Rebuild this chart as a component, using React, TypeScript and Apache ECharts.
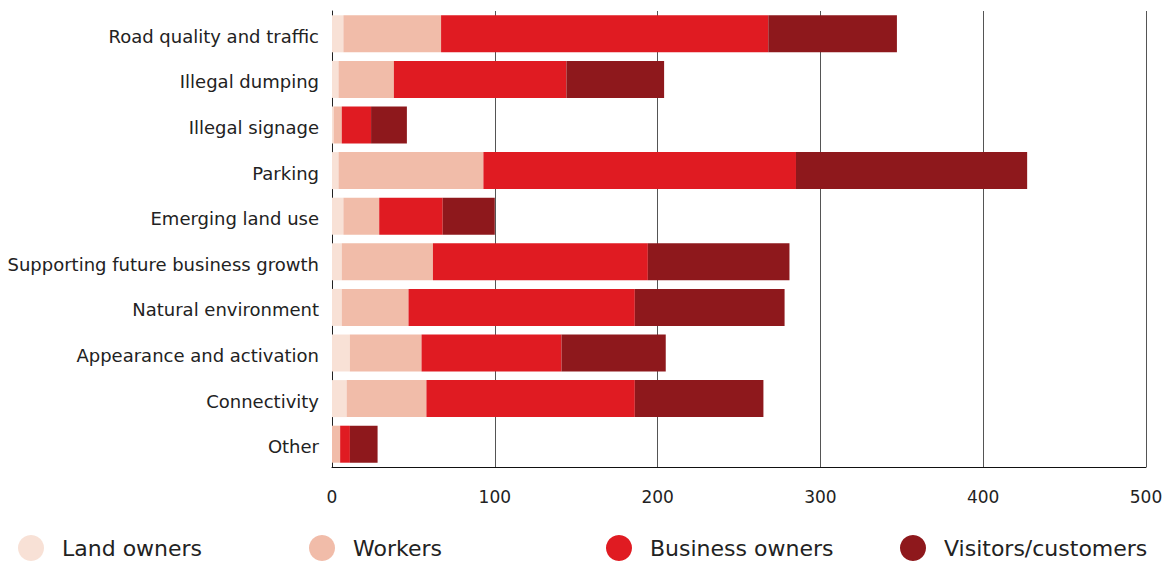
import React, { useEffect, useRef } from "react";
import * as echarts from "echarts";

const categories = [
  "Road quality and traffic",
  "Illegal dumping",
  "Illegal signage",
  "Parking",
  "Emerging land use",
  "Supporting future business growth",
  "Natural environment",
  "Appearance and activation",
  "Connectivity",
  "Other",
];

const landOwners = [7, 4, 1, 4, 7, 6, 6, 11, 9, 0];
const workers = [60, 34, 5, 89, 22, 56, 41, 44, 49, 5];
const businessOwners = [201, 106, 18, 192, 39, 132, 139, 86, 128, 6];
const visitors = [79, 60, 22, 142, 32, 87, 92, 64, 79, 17];

const seriesNames = ["Land owners", "Workers", "Business owners", "Visitors/customers"];
const seriesColors = ["#f8e1d6", "#f1bca9", "#e01b22", "#8e181c"];
const seriesData = [landOwners, workers, businessOwners, visitors];
const legendLeft = [13, 304, 601, 895];

const FONT = "'DejaVu Sans', 'Noto Sans', sans-serif";

export default function App() {
  const ref = useRef<HTMLDivElement>(null);

  useEffect(() => {
    if (!ref.current) return;
    const chart = echarts.init(ref.current, undefined, { renderer: "svg" });
    chart.setOption({
      animation: false,
      textStyle: { fontFamily: FONT },
      grid: { left: 332, right: 25, top: 11, bottom: 94, containLabel: false },
      xAxis: {
        type: "value",
        min: 0,
        max: 500,
        interval: 100,
        axisLine: { show: true, lineStyle: { color: "#111", width: 1 } },
        axisTick: { show: false },
        axisLabel: { color: "#222", fontSize: 17, margin: 21, fontFamily: FONT },
        splitLine: { show: true, lineStyle: { color: "#555", width: 1 } },
      },
      yAxis: {
        type: "category",
        data: categories,
        inverse: true,
        axisLine: { show: true, lineStyle: { color: "#222", width: 1 } },
        axisTick: { show: false },
        axisLabel: {
          color: "#222",
          fontSize: 18,
          margin: 13,
          fontFamily: FONT,
          verticalAlign: "top",
          lineHeight: 5,
        },
        splitLine: { show: false },
      },
      legend: seriesNames.map((name, i) => ({
        data: [name],
        left: legendLeft[i],
        top: 530,
        icon: "circle",
        itemWidth: 26,
        itemHeight: 26,
        itemGap: 0,
        textStyle: { color: "#222", fontSize: 22, fontFamily: FONT, padding: [0, 0, 0, 13] },
      })),
      series: seriesNames.map((name, i) => ({
        name,
        type: "bar",
        stack: "total",
        data: seriesData[i],
        barWidth: 37,
        itemStyle: { color: seriesColors[i] },
        emphasis: { disabled: true },
      })),
    });
    return () => chart.dispose();
  }, []);

  return (
    <div
      ref={ref}
      style={{ position: "fixed", left: 0, top: 0, width: 1171, height: 561, background: "#fff" }}
    />
  );
}
